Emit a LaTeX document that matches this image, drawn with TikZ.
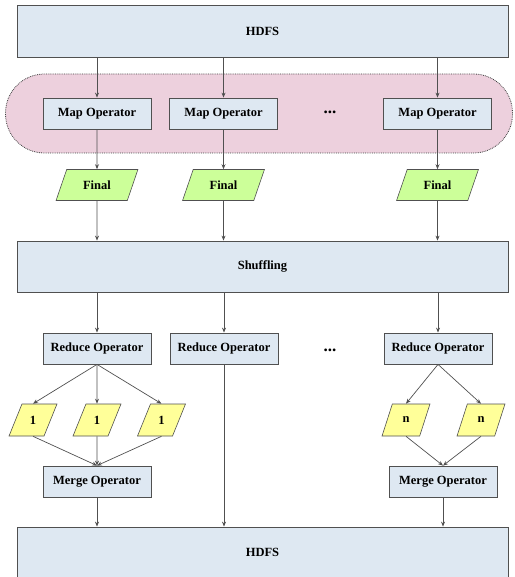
\documentclass[tikz,border=0pt]{standalone}
\usepackage{fontspec}
\setmainfont{Liberation Serif}
\usepackage{xcolor}
\usetikzlibrary{shapes.geometric, arrows.meta, positioning}

\definecolor{boxblue}{RGB}{222,232,242}
\definecolor{lanepink}{RGB}{237,208,221}
\definecolor{finalgreen}{RGB}{204,255,153}
\definecolor{partyellow}{RGB}{255,255,153}
\definecolor{edgegrey}{RGB}{80,80,80}

\begin{document}
\begin{tikzpicture}[x=1pt, y=-1pt, font=\fontsize{12.5}{15}\selectfont\bfseries]
 % We define the styles for the blocks, the data and the arrows
 \tikzset{
wide/.style = {draw=edgegrey, fill=boxblue, line width=0.8pt, minimum width=491pt, inner sep=0pt},
block/.style = {draw=edgegrey, fill=boxblue, line width=0.8pt, minimum width=108pt, minimum height=31pt, inner sep=0pt},
data/.style = {trapezium, trapezium stretches=true, draw=edgegrey, line width=0.6pt, inner sep=0pt},
final/.style = {data, fill=finalgreen, trapezium left angle=61, trapezium right angle=119, minimum width=82pt, minimum height=31pt},
part/.style = {data, fill=partyellow, trapezium left angle=66, trapezium right angle=114, minimum width=48pt, minimum height=32pt},
line/.style = {draw=edgegrey, line width=0.7pt, -{Stealth[length=5pt, width=4pt]}},
ellipsis/.style = {font=\fontsize{17}{17}\selectfont\bfseries},
}
 \useasboundingbox (0,0) rectangle (514,577);

 % Input storage
 \node [wide, minimum height=52pt] (hdfsin) at (262.5,31) {HDFS};

 % Map stage with its pink lane
 \node [draw=black!75, densely dotted, fill=lanepink, rounded corners=39pt, line width=0.8pt, minimum width=507pt, minimum height=79pt] (lane) at (259,113.5) {};
 \node [block] (map1) at (97,113.5) {Map Operator};
 \node [block, right of=map1, node distance=126.5pt] (map2) {Map Operator};
 \node [block, right of=map2, node distance=214pt] (map3) {Map Operator};
 \node [ellipsis] (mapdots) at (330,112) {...};

 % Map outputs
 \node [final, below of=map1, node distance=71.5pt] (final1) {Final};
 \node [final, below of=map2, node distance=71.5pt] (final2) {Final};
 \node [final, below of=map3, node distance=71.5pt] (final3) {Final};

 % Shuffle stage
 \node [wide, minimum height=51pt] (shuffle) at (262.5,266.5) {Shuffling};

 % Reduce stage
 \node [block] (reduce1) at (97,348.5) {Reduce Operator};
 \node [block, right of=reduce1, node distance=127pt] (reduce2) {Reduce Operator};
 \node [block, right of=reduce2, node distance=214pt] (reduce3) {Reduce Operator};
 \node [ellipsis] (reducedots) at (330,350) {...};

 % Partial outputs
 \node [part] (one1) at (33,420) {1};
 \node [part, right of=one1, node distance=64pt] (one2) {1};
 \node [part, right of=one2, node distance=64.5pt] (one3) {1};
 \node [part] (enn1) at (406,420) {n};
 \node [part, right of=enn1, node distance=75pt] (enn2) {n};

 % Merge stage
 \node [block] (merge1) at (97,481.5) {Merge Operator};
 \node [block] (merge2) at (443,481.5) {Merge Operator};

 % Output storage
 \node [wide, minimum height=50pt] (hdfsout) at (262.5,552) {HDFS};

 % Arrows
 \draw [line] (hdfsin.south -| map1) -- (map1);
 \draw [line] (hdfsin.south -| map2) -- (map2);
 \draw [line] (hdfsin.south -| map3) -- (map3);
 \draw [line] (map1) -- (final1);
 \draw [line] (map2) -- (final2);
 \draw [line] (map3) -- (final3);
 \draw [line] (final1) -- (final1 |- shuffle.north);
 \draw [line] (final2) -- (final2 |- shuffle.north);
 \draw [line] (final3) -- (final3 |- shuffle.north);
 \draw [line] (shuffle.south -| reduce1) -- (reduce1);
 \draw [line] (shuffle.south -| reduce2) -- (reduce2);
 \draw [line] (shuffle.south -| reduce3) -- (reduce3);
 \draw [line] (reduce1.south) -- (one1.north);
 \draw [line] (reduce1.south) -- (one2.north);
 \draw [line] (reduce1.south) -- (one3.north);
 \draw [line] (reduce3.south) -- (enn1.north);
 \draw [line] (reduce3.south) -- (enn2.north);
 \draw [line] (one1.south) -- (merge1.north);
 \draw [line] (one2.south) -- (merge1.north);
 \draw [line] (one3.south) -- (merge1.north);
 \draw [line] (enn1.south) -- (merge2.north);
 \draw [line] (enn2.south) -- (merge2.north);
 \draw [line] (merge1) -- (merge1 |- hdfsout.north);
 \draw [line] (reduce2) -- (reduce2 |- hdfsout.north);
 \draw [line] (merge2) -- (merge2 |- hdfsout.north);

\end{tikzpicture}
\end{document}
